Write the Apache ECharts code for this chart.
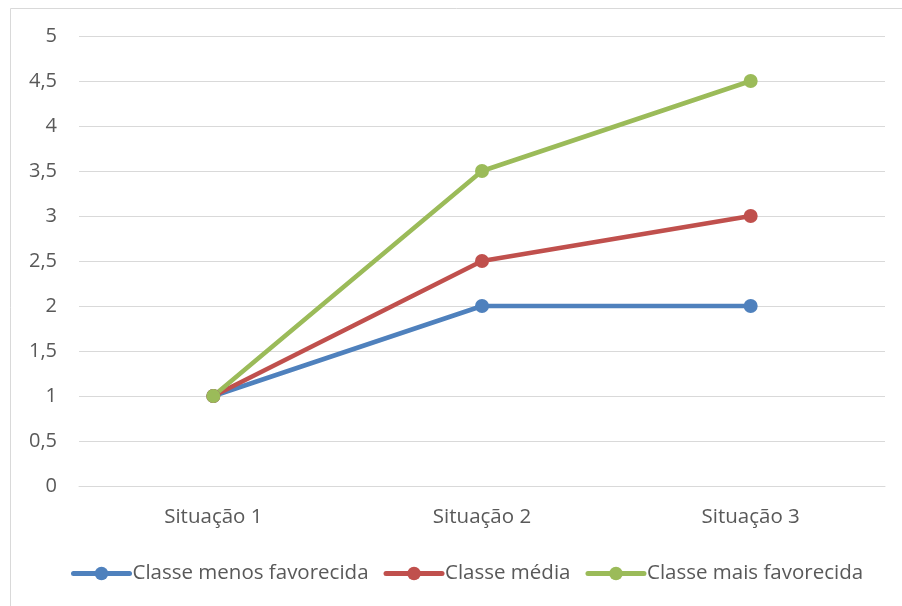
<!DOCTYPE html>
<html><head><meta charset="utf-8">
<script src="https://cdn.jsdelivr.net/npm/echarts@6/dist/echarts.min.js"></script>
<style>html,body{margin:0;padding:0;background:#fff}#c{width:902px;height:606px}</style>
</head><body><div id="c"></div>
<script>
const categories = ['Situação 1', 'Situação 2', 'Situação 3'];
const seriesNames = ['Classe menos favorecida', 'Classe média', 'Classe mais favorecida'];
const menos = [1, 2, 2];
const media = [1, 2.5, 3];
const mais = [1, 3.5, 4.5];
const colors = ['#4F81BD', '#C0504D', '#9BBB59'];
const font = 'Open Sans';
const chart = echarts.init(document.getElementById('c'), null, {renderer: 'canvas'});
const mk = (name, data, color) => ({
  name, type: 'line', data, symbol: 'circle', symbolSize: 14,
  lineStyle: {width: 4.5, color}, itemStyle: {color}, emphasis: {disabled: true}
});
chart.setOption({
  animation: false,
  color: colors,
  textStyle: {fontFamily: font},
  graphic: [{type: 'rect', shape: {x: 10.5, y: 8.5, width: 900, height: 620}, style: {fill: 'none', stroke: '#d9d9d9', lineWidth: 1}}],
  grid: {left: 79, right: 17, top: 36, bottom: 120, containLabel: false},
  xAxis: {
    type: 'category', data: categories, boundaryGap: true,
    axisLine: {show: true, lineStyle: {color: '#d9d9d9', width: 1}},
    axisTick: {show: false},
    axisLabel: {color: '#595959', fontSize: 20.5, fontFamily: font, margin: 21}
  },
  yAxis: {
    type: 'value', min: 0, max: 5, interval: 0.5,
    axisLine: {show: false}, axisTick: {show: false},
    splitLine: {lineStyle: {color: '#d9d9d9', width: 1}},
    axisLabel: {color: '#595959', fontSize: 20, fontFamily: font, margin: 22,
      formatter: v => String(v).replace('.', ',')}
  },
  legend: {
    bottom: 17, left: 66, itemWidth: 56, itemHeight: 17, itemGap: 15,
    data: seriesNames,
    lineStyle: {width: 5, cap: 'round'},
    textStyle: {color: '#595959', fontSize: 20.5, fontFamily: font, padding: [0, 0, 0, -2]}
  },
  series: [mk(seriesNames[0], menos, colors[0]), mk(seriesNames[1], media, colors[1]), mk(seriesNames[2], mais, colors[2])]
});
</script></body></html>
